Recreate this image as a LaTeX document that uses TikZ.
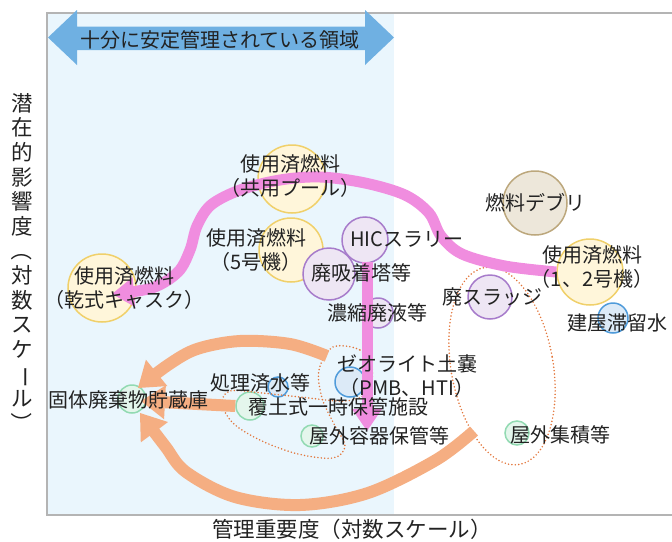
\documentclass[tikz,border=0pt]{standalone}
\usepackage{fontspec}
\usepackage{graphicx}
\newfontfamily\cjk{Noto Sans CJK JP}
\usetikzlibrary{arrows.meta}
\definecolor{bgblue}{HTML}{EAF6FD}
\definecolor{framegray}{HTML}{B4B4B4}
\definecolor{banner}{HTML}{6FB0E2}
\definecolor{yfill}{HTML}{FFF6DA}
\definecolor{ydraw}{HTML}{F0D06A}
\definecolor{pfill}{HTML}{EEE6F4}
\definecolor{pdraw}{HTML}{A77CCB}
\definecolor{dfill}{HTML}{EDE7DA}
\definecolor{ddraw}{HTML}{BCA77C}
\definecolor{bfill}{HTML}{DCEAF7}
\definecolor{bdraw}{HTML}{4F9BDA}
\definecolor{gfill}{HTML}{E4F6EC}
\definecolor{gdraw}{HTML}{92DAB2}
\definecolor{pinkc}{HTML}{F08DDF}
\definecolor{orangec}{HTML}{F5AE82}
\definecolor{dotc}{HTML}{E2753A}
\definecolor{ink}{HTML}{222222}
\begin{document}
\begin{tikzpicture}[x=1pt,y=-1pt,
  bub/.style={circle, inner sep=0pt, line width=1.5pt},
  ycirc/.style={bub, draw=ydraw, fill=yfill},
  pcirc/.style={bub, draw=pdraw, fill=pfill},
  dcirc/.style={bub, draw=ddraw, fill=dfill},
  bcirc/.style={bub, draw=bdraw, fill=bfill},
  gcirc/.style={bub, draw=gdraw, fill=gfill},
  lbl/.style={font=\cjk\fontsize{20}{24}\selectfont, inner sep=0pt, align=center, text=ink},
  axlbl/.style={font=\cjk\fontsize{21.5}{24.6}\selectfont, inner sep=0pt, align=center, text=ink},
  pinkarrow/.style={draw=pinkc, line width=11pt, -{Triangle[width=30pt,length=22pt,line width=0pt]}},
  pinkband/.style={draw=pinkc, line width=11pt},
  orangearrow/.style={draw=orangec, line width=12pt, -{Triangle[width=34pt,length=24pt,line width=0pt]}},
  dotline/.style={draw=dotc, line width=1.7pt, line cap=round, dash pattern=on 0pt off 3.4pt},
]
\useasboundingbox (0,0) rectangle (672,541);
% background region and frame
\fill[bgblue] (47,13) rectangle (394,515);
\draw[framegray, line width=1.4pt] (672,13) -- (47,13) -- (47,515) -- (672,515);
% banner double arrow
\fill[banner] (48,37.5) -- (77,10) -- (77,26.5) -- (365,26.5) -- (365,10) -- (394,37.5)
  -- (365,65) -- (365,50) -- (77,50) -- (77,65) -- cycle;
\node[lbl] (banner) at (220,40) {十分に安定管理されている領域};

% axis labels
\node[axlbl, anchor=north] (ylab) at (22,93) {潜\\在\\的\\影\\響\\度\\\rotatebox[origin=c]{-90}{（}\\対\\数\\ス\\ケ\\\rotatebox[origin=c]{-90}{ー}\\ル\\\rotatebox[origin=c]{-90}{）}};
\node[axlbl] (xlab) at (352,529) {管理重要度（対数スケール）};

% circles
\node[ycirc, minimum size=68pt] (kyoyo) at (292,179) {};
\node[ycirc, minimum size=64pt] (go5) at (291,250) {};
\node[ycirc, minimum size=68pt] (kanshiki) at (102,288) {};
\node[ycirc, minimum size=66pt] (c12) at (590,272) {};
\node[dcirc, minimum size=64pt] (debris) at (535,203) {};
\node[pcirc, minimum size=46pt] (hic) at (365,240) {};
\node[pcirc, minimum size=52pt] (kyuchaku) at (329,274) {};
\node[pcirc, minimum size=30pt] (noshuku) at (378,313) {};
\node[pcirc, minimum size=44pt] (sludge) at (490,297) {};
\node[bcirc, minimum size=30pt] (tairyu) at (613,318) {};
\node[bcirc, minimum size=30pt] (zeolite) at (350,382) {};
\node[bcirc, minimum size=20pt] (shori) at (278,387) {};
\node[gcirc, minimum size=28pt] (fukudo) at (250,406) {};
\node[gcirc, minimum size=22pt] (okugai) at (312,436) {};
\node[gcirc, minimum size=28pt] (kotai) at (132,399) {};
\node[gcirc, minimum size=24pt] (shuseki) at (517,433) {};

% dotted groupings
\draw[dotline] plot[smooth cycle, tension=0.55] coordinates {
  (333,347) (360,350) (372,368) (368,392) (345,401) (300,397) (262,393) (230,391)
  (222,404) (234,424) (262,441) (298,454) (333,458) (345,446) (334,424) (322,398) (319,370)};
\draw[dotline, rotate around={10:(502,366)}] (502,366) ellipse [x radius=51, y radius=100];

% pink arrows
\coordinate (pinkend) at (112,294);
\draw[pinkarrow] plot[smooth, tension=0.55] coordinates {
  (c12.west) (505,266) (462,254) (441,236) (429,213) (405,195) (365,183) (320,177)
  (280,180) (240,190) (211,205) (197,226) (190,250) (178,272) (152,288) (pinkend)};
\coordinate (pinkdown) at (367,431);
\draw[pinkarrow] (367,262) -- (pinkdown);

% orange arrows
\coordinate (kotaiA) at (138,388);
\coordinate (kotaiB) at (141,401);
\coordinate (kotaiC) at (140,413);
\draw[orangearrow] plot[smooth, tension=0.55] coordinates {
  (327,356) (290,344) (240,341) (197,349) (168,365) (kotaiA)};
\draw[orangearrow] (fukudo.west) -- (kotaiB);
\draw[orangearrow] plot[smooth, tension=0.55] coordinates {
  (474,431) (436,460) (368,493) (300,505) (235,497) (186,472) (165,446) (kotaiC)};

% labels
\node[lbl] (t-kyoyo) at (290,176) {使用済燃料\\（共用プール）};
\node[lbl] (t-go5) at (256,250) {使用済燃料\\（5号機）};
\node[lbl] (t-kanshiki) at (124,288) {使用済燃料\\（乾式キャスク）};
\node[lbl] (t-c12) at (592,267) {使用済燃料\\（1、2号機）};
\node[lbl] (t-debris) at (535,203) {燃料デブリ};
\node[lbl] (t-hic) at (407,239) {HICスラリー};
\node[lbl] (t-kyuchaku) at (361,273) {廃吸着塔等};
\node[lbl] (t-noshuku) at (377,313) {濃縮廃液等};
\node[lbl] (t-sludge) at (492,297) {廃スラッジ};
\node[lbl] (t-tairyu) at (617,323) {建屋滞留水};
\node[lbl] (t-zeolite) at (407,376) {ゼオライト土嚢\\（PMB、HTI）};
\node[lbl] (t-shori) at (260,383) {処理済水等};
\node[lbl] (t-fukudo) at (338,407) {覆土式一時保管施設};
\node[lbl] (t-okugai) at (379,436) {屋外容器保管等};
\node[lbl] (t-kotai) at (128,400) {固体廃棄物貯蔵庫};
\node[lbl] (t-shuseki) at (560,435) {屋外集積等};
\end{tikzpicture}
\end{document}
